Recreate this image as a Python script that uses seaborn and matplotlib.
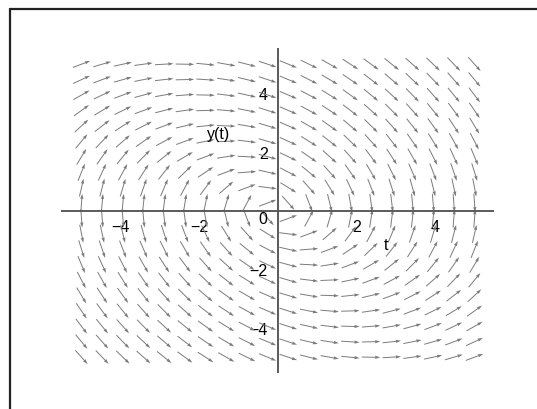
import numpy as np
import matplotlib
matplotlib.use("Agg")
import matplotlib.pyplot as plt
import seaborn as sns
from matplotlib.lines import Line2D

# Direction field of the ODE  dy/dt = (coef_t * t + coef_y * y) / y
coef_t = -1.0
coef_y = -0.5
t_grid = np.linspace(-5, 5, 20)   # 20 arrow columns
y_grid = np.linspace(-5, 5, 20)   # 20 arrow rows
x_major = [-4, -2, 2, 4]
y_major = [-4, -2, 2, 4]
x_tick_labels = ["\u22124", "\u22122", "2", "4"]
y_tick_labels = ["\u22124", "\u22122", "2", "4"]
x_name = "t"
y_name = "y(t)"

sns.set_theme(style="white")
plt.rcParams['font.family'] = ['Liberation Sans', 'DejaVu Sans']

W, H = 537, 410
fig = plt.figure(figsize=(W / 100, H / 100), dpi=100)
xlim = (-5.6, 5.6)
ylim = (-5.6, 5.6)
ax_w = 11.2 * 39.3
ax_h = 11.2 * 29.3
left_px = 278 - ax_w / 2
bottom_px = H - (211.7 + ax_h / 2)
ax = fig.add_axes([left_px / W, bottom_px / H, ax_w / W, ax_h / H])
ax.set_xlim(xlim)
ax.set_ylim(ylim)
ax.set_facecolor("white")

T, Y = np.meshgrid(t_grid, y_grid)
slope = (coef_t * T + coef_y * Y) / Y
px_x = ax_w / (xlim[1] - xlim[0])
px_y = ax_h / (ylim[1] - ylim[0])
dxp = np.ones_like(slope) * px_x
dyp = slope * px_y
n = np.hypot(dxp, dyp)
L = 18.5
U = L * dxp / n / px_x
V = L * dyp / n / px_y
ax.quiver(T, Y, U, V, angles='xy', scale_units='xy', scale=1, pivot='middle',
          color='#7a7a7a', width=0.0022, headwidth=3.4, headlength=5.5,
          headaxislength=5.0, zorder=2)

# axes through the origin
for s in ['top', 'right']:
    ax.spines[s].set_visible(False)
ax.spines['left'].set_position(('data', 0))
ax.spines['bottom'].set_position(('data', 0))
ax.spines['left'].set_bounds(-5.52, 5.52)
ax.spines['bottom'].set_bounds(-5.49, 5.47)
for s in ['left', 'bottom']:
    ax.spines[s].set_color('#5a5a5a')
    ax.spines[s].set_linewidth(1.4)
    ax.spines[s].set_zorder(3)

minor = [round(0.4 * k, 2) for k in range(-13, 14) if k != 0]
ax.set_xticks(x_major)
ax.set_xticklabels(x_tick_labels)
ax.set_yticks(y_major)
ax.set_yticklabels(y_tick_labels)
ax.set_xticks(minor, minor=True)
ax.set_yticks(minor, minor=True)
ax.tick_params(axis='both', which='major', direction='out', length=3.5, width=1.0,
               color='#5a5a5a', labelsize=11.5, labelcolor='black')
ax.tick_params(axis='both', which='minor', direction='out', length=3.0, width=1.0,
               color='#5a5a5a')
ax.tick_params(axis='x', which='major', pad=2.5)
ax.tick_params(axis='y', which='major', pad=4.0)
ax.grid(False)

ax.text(-0.39, -0.25, "0", fontsize=11.5, ha='center', va='center', color='black')
ax.text(2.74, -1.14, x_name, fontsize=11.5, ha='center', va='center', color='black')
ax.text(-1.5, 2.65, y_name, fontsize=11.5, ha='center', va='center', color='black')

# outer frame (top and left edges visible)
fig.add_artist(Line2D([9.5 / W, 1.0], [1 - 9.8 / H, 1 - 9.8 / H],
                      transform=fig.transFigure, color='#222222', linewidth=1.6))
fig.add_artist(Line2D([9.8 / W, 9.8 / W], [0.0, 1 - 9.5 / H],
                      transform=fig.transFigure, color='#222222', linewidth=1.6))

fig.savefig("out.png", dpi=100)
